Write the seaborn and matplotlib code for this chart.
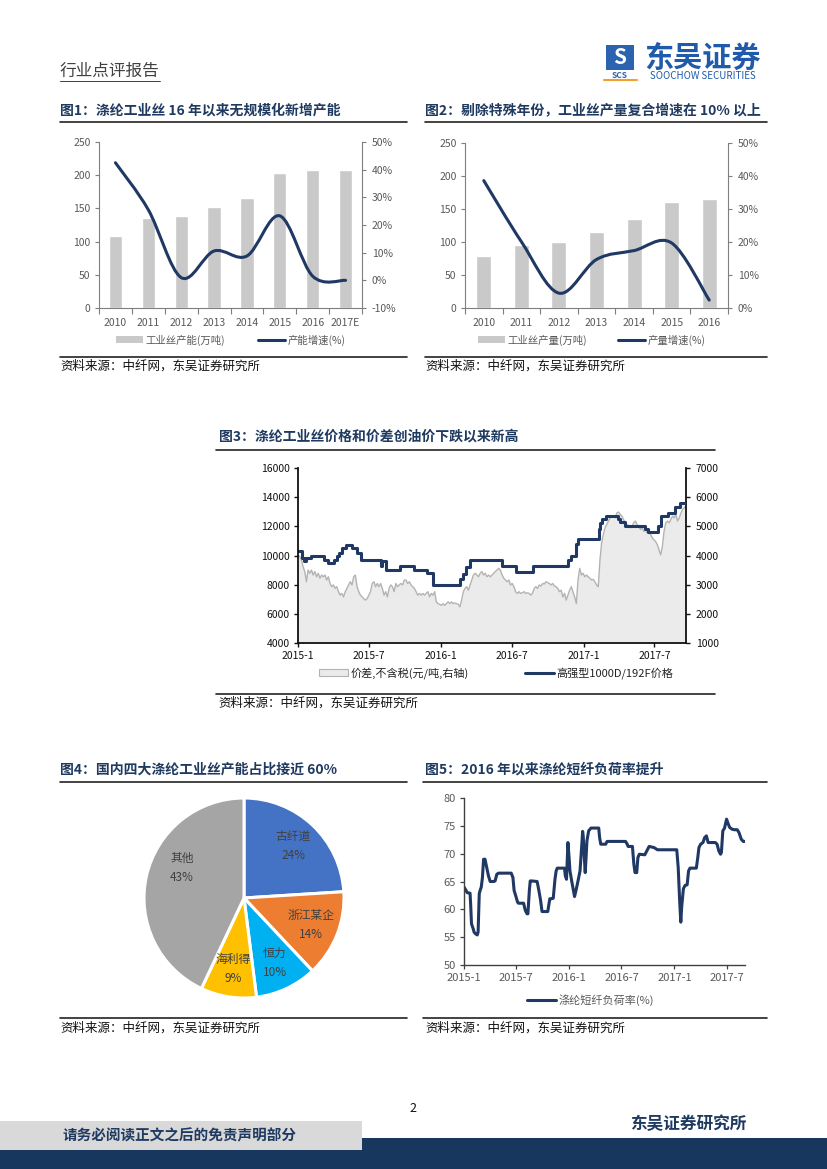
import numpy as np
import pandas as pd
import matplotlib
matplotlib.use("Agg")
import matplotlib.pyplot as plt
import seaborn as sns
from matplotlib.path import Path
from matplotlib.patches import PathPatch, Patch, Rectangle
from matplotlib.lines import Line2D

# ---------------- data ----------------
# fig 1: capacity
cap_years = ["2010", "2011", "2012", "2013", "2014", "2015", "2016", "2017E"]
cap_values = [109, 136, 138, 152, 166, 204, 208, 208]
cap_growth = [42.5, 25.5, 1.0, 10.6, 8.8, 23.3, 1.5, 0.0]

# fig 2: output
out_years = ["2010", "2011", "2012", "2013", "2014", "2015", "2016"]
out_values = [79, 95, 100, 115, 135, 161, 165]
out_growth = [38.6, 20.1, 4.5, 14.7, 17.4, 19.7, 2.4]

# fig 3: price (step changes) and spread
price_dates = ["2015-01-01", "2015-01-11", "2015-01-16", "2015-01-22", "2015-02-04",
               "2015-03-08", "2015-03-20", "2015-04-03", "2015-04-11", "2015-04-16",
               "2015-04-24", "2015-05-03", "2015-05-19", "2015-06-01", "2015-06-11",
               "2015-08-01", "2015-08-05", "2015-08-14", "2015-09-18", "2015-10-24",
               "2015-11-28", "2015-12-12", "2016-02-19", "2016-02-27", "2016-03-06",
               "2016-03-15", "2016-06-05", "2016-07-13", "2016-08-25", "2016-11-23",
               "2016-11-30", "2016-12-12", "2016-12-17", "2017-02-09", "2017-02-13",
               "2017-02-17", "2017-02-26", "2017-03-30", "2017-04-04", "2017-04-16",
               "2017-06-07", "2017-06-15", "2017-07-11", "2017-07-19", "2017-08-06",
               "2017-08-23", "2017-09-05", "2017-09-20"]
price_values = [10300, 9800, 9600, 9800, 10000,
                9700, 9500, 9700, 10000, 10200,
                10500, 10700, 10500, 10200, 9700,
                9300, 9600, 9000, 9300, 9000,
                8800, 8000, 8400, 8700, 9200,
                9700, 9300, 8900, 9300, 9700,
                10000, 10800, 11100, 11800, 12200,
                12500, 12700, 12500, 12300, 12000,
                11800, 11600, 12000, 12700, 12900,
                13300, 13600, 13600]

spread_values = [
    4020, 3970, 3850, 3620, 3450, 3100, 3500, 3390, 3500, 3330,
    3450, 3270, 3390, 3220, 3330, 3270, 3330, 3160, 3270, 3040,
    2930, 2990, 2870, 2930, 2760, 2640, 2700, 2580, 2760, 2870,
    2990, 3100, 2990, 3270, 3330, 2930, 2760, 2640, 2580, 2520,
    2470, 2520, 2640, 2760, 3040, 3100, 2930, 3040, 2930, 3040,
    2870, 2640, 2760, 2580, 2870, 2990, 2930, 2760, 3040, 2930,
    2990, 3040, 2990, 3160, 3160, 3040, 3100, 2990, 2930, 2870,
    2760, 2640, 2700, 2640, 2700, 2640, 2700, 2760, 2580, 2700,
    2640, 2760, 2410, 2350, 2330, 2290, 2350, 2290, 2350, 2410,
    2350, 2410, 2350, 2370, 2350, 2330, 2240, 2470, 2760, 2870,
    2930, 2810, 2990, 3160, 3330, 3390, 3330, 3270, 3390, 3450,
    3330, 3390, 3270, 3330, 3270, 3330,
    3390, 3450, 3500, 3560, 3500, 3330, 3220, 3160, 3100, 3160,
    2990, 3040, 2930, 2760, 2700, 2760, 2700, 2720, 2760, 2700,
    2720, 2700, 2640, 2700, 2870, 2930, 2870, 2990, 2950, 3040,
    3020, 3100, 3070, 3040, 2990, 3040, 2950, 2930, 2870, 2760,
    2810, 2580, 2700, 2470, 2640, 2810, 2930, 2760, 2580, 2350,
    3160, 3560, 3330, 3390, 3270, 3330, 3270, 3220, 3160, 3180,
    3100, 2990, 2930, 3850, 4430, 4720, 4950, 5060, 5180, 5290,
    5330, 5370, 5290, 5460, 5490, 5410, 5350, 5230, 5120, 5060,
    5030, 4950, 5000, 5120, 5180, 5060, 5000, 4890, 4950, 4830,
    4890, 4770, 4830, 4720, 4600, 4540, 4480, 4370, 4200, 4020,
    4310, 4830, 5120, 5180, 5120, 5230, 5350, 5290, 5410, 5180,
    5290, 5460, 5580, 5640, 5700]
spread_start, spread_end = "2015-01-01", "2017-09-20"

date_ticks = ["2015-01-01", "2015-07-01", "2016-01-01", "2016-07-01", "2017-01-01", "2017-07-01"]
date_labels = ["2015-1", "2015-7", "2016-1", "2016-7", "2017-1", "2017-7"]

# fig 4: capacity share
share_names = ["古纤道", "浙江某企", "恒力", "海利得", "其他"]
share_values = [24, 14, 10, 9, 43]
share_colors = ["#4472C4", "#ED7D31", "#00B0F0", "#FFC000", "#A5A5A5"]

# fig 5: staple fibre load rate
load_dates = ["2015-01-01", "2015-01-07", "2015-01-12", "2015-01-22", "2015-01-24", "2015-01-27",
              "2015-02-02", "2015-02-05", "2015-02-10", "2015-02-16", "2015-02-19", "2015-02-23",
              "2015-02-26", "2015-03-02", "2015-03-06", "2015-03-10", "2015-03-15", "2015-03-21",
              "2015-03-27", "2015-04-02", "2015-04-14", "2015-04-19", "2015-04-25", "2015-05-01",
              "2015-06-14", "2015-06-20", "2015-06-24", "2015-07-01", "2015-07-06", "2015-07-09",
              "2015-07-27", "2015-08-02", "2015-08-08", "2015-08-11", "2015-08-16", "2015-08-19",
              "2015-08-25", "2015-09-12", "2015-09-18", "2015-09-24", "2015-09-29", "2015-10-19",
              "2015-10-26", "2015-11-01", "2015-11-07", "2015-11-13", "2015-11-17", "2015-11-21",
              "2015-12-16", "2015-12-19", "2015-12-23", "2015-12-28", "2016-01-01", "2016-01-04",
              "2016-01-10", "2016-01-16", "2016-01-20", "2016-01-25", "2016-02-01", "2016-02-08",
              "2016-02-15", "2016-02-17", "2016-02-19", "2016-02-23", "2016-02-26", "2016-02-29",
              "2016-03-03", "2016-03-09", "2016-03-17", "2016-04-13", "2016-04-16", "2016-04-20",
              "2016-05-07", "2016-05-12", "2016-07-15", "2016-07-21", "2016-07-24", "2016-08-08",
              "2016-08-13", "2016-08-17", "2016-08-23", "2016-08-27", "2016-09-01", "2016-09-20",
              "2016-09-29", "2016-10-05", "2016-10-22", "2016-11-03", "2017-01-09", "2017-01-14",
              "2017-01-19", "2017-01-23", "2017-01-26", "2017-02-01", "2017-02-07", "2017-02-14",
              "2017-02-19", "2017-02-24", "2017-03-18", "2017-03-23", "2017-03-27", "2017-04-02",
              "2017-04-10", "2017-04-16", "2017-04-22", "2017-04-28", "2017-05-23", "2017-05-29",
              "2017-06-04", "2017-06-10", "2017-06-13", "2017-06-18", "2017-06-24", "2017-06-27",
              "2017-07-01", "2017-07-07", "2017-07-12", "2017-07-20", "2017-07-28", "2017-08-07",
              "2017-08-13", "2017-08-21", "2017-08-28", "2017-09-03"]
load_values = [64.0, 63.5, 63.0, 62.9, 61.0, 57.4,
               56.5, 55.9, 55.6, 55.4, 55.9, 62.8,
               63.4, 64.0, 65.7, 69.0, 69.0, 67.5,
               66.0, 65.0, 65.0, 65.1, 66.3, 66.5,
               66.5, 65.7, 63.4, 62.2, 61.3, 61.1,
               61.1, 59.8, 59.2, 59.2, 63.4, 65.1,
               65.1, 65.0, 63.4, 61.6, 59.6, 59.6,
               61.9, 61.9, 62.0, 65.4, 66.9, 67.4,
               67.4, 66.0, 65.4, 72.0, 69.3, 66.9,
               65.1, 63.4, 62.3, 63.4, 65.1, 66.9,
               72.3, 74.0, 73.2, 69.3, 66.6, 69.3,
               72.3, 74.1, 74.6, 74.6, 72.9, 71.7,
               71.7, 72.2, 72.2, 71.7, 71.3, 71.3,
               68.1, 66.6, 66.6, 69.3, 69.9, 69.8,
               70.7, 71.3, 71.1, 70.7, 70.7, 67.5,
               61.6, 57.7, 60.4, 63.7, 64.3, 64.4,
               66.9, 67.4, 67.4, 69.3, 71.1, 71.7,
               72.0, 72.9, 73.2, 72.0, 72.0, 71.7,
               70.5, 69.9, 70.2, 74.1, 74.6, 75.3,
               76.2, 75.3, 74.7, 74.4, 74.3, 74.3,
               73.8, 72.6, 72.2, 72.2]

# ---------------- style ----------------
NAVY = "#1F3864"
TITLE = "#1F3A60"
BAR_GRAY = "#C9C9C9"
TICK = "#595959"
SPINE = "#7F7F7F"

sns.set_theme(style="white")
plt.rcParams["font.family"] = ["Noto Sans CJK SC", "DejaVu Sans"]
plt.rcParams["axes.unicode_minus"] = False

W, H = 827, 1169
fig = plt.figure(figsize=(8.27, 11.69), dpi=100)


def rect(x0, y0, x1, y1):
    return [x0 / W, 1 - y1 / H, (x1 - x0) / W, (y1 - y0) / H]


def fx(x):
    return x / W


def fy(y):
    return 1 - y / H


def hline(x0, x1, y, lw=1.2, color="#222222"):
    fig.add_artist(Line2D([fx(x0), fx(x1)], [fy(y), fy(y)], transform=fig.transFigure,
                          color=color, lw=lw))


def smooth_path(xs, ys):
    # catmull-rom style smoothing like excel's smoothed line
    pts = np.column_stack([xs, ys]).astype(float)
    n = len(pts)
    verts = [pts[0]]
    codes = [Path.MOVETO]
    for i in range(n - 1):
        p0 = pts[i - 1] if i > 0 else pts[i]
        p1, p2 = pts[i], pts[i + 1]
        p3 = pts[i + 2] if i + 2 < n else pts[i + 1]
        verts += [p1 + (p2 - p0) / 6, p2 - (p3 - p1) / 6, p2]
        codes += [Path.CURVE4] * 3
    return Path(verts, codes)


def put_legend(handle, label, x, y, color=TICK, size=7.5):
    fig.legend(handles=[handle], labels=[label], loc="center left",
               bbox_to_anchor=(fx(x), fy(y)), frameon=False, fontsize=size,
               handlelength=2.6, handletextpad=0.25, borderpad=0, borderaxespad=0,
               labelcolor=color)


def bar_line(box, years, bars, growth, rlim, rticks, bar_label, line_label, legend_x):
    ax = fig.add_axes(rect(*box))
    sns.barplot(x=years, y=bars, color=BAR_GRAY, width=0.4, saturation=1,
                errorbar=None, ax=ax)
    n = len(years)
    ax.set_xlim(-0.5, n - 0.5)
    ax.set_ylim(0, 250)
    ax.set_yticks(range(0, 251, 50))
    ax.set_xticks(np.arange(n + 1) - 0.5)
    ax.set_xticklabels([])
    ax.set_xticks(range(n), minor=True)
    ax.set_xticklabels(years, minor=True)
    ax.tick_params(axis="x", which="major", bottom=True, length=4, width=0.8, color=SPINE)
    ax.tick_params(axis="x", which="minor", bottom=True, length=0, labelsize=7.5,
                   labelcolor=TICK, pad=7)
    ax.tick_params(axis="y", left=True, length=3, width=0.8, color=SPINE,
                   labelsize=7.5, labelcolor=TICK, pad=3)
    ax.set_xlabel("")
    ax.set_ylabel("")
    for s in ["top", "right"]:
        ax.spines[s].set_visible(False)
    for s in ["left", "bottom"]:
        ax.spines[s].set_color(SPINE)
        ax.spines[s].set_linewidth(0.8)

    ax2 = ax.twinx()
    ax2.add_patch(PathPatch(smooth_path(np.arange(n), growth), fill=False,
                            edgecolor=NAVY, lw=2.2, capstyle="round"))
    ax2.set_ylim(*rlim)
    ax2.set_yticks(rticks)
    ax2.set_yticklabels([f"{t}%" for t in rticks])
    ax2.tick_params(axis="y", right=True, length=3, width=0.8, color=SPINE,
                    labelsize=7.5, labelcolor=TICK, pad=4)
    for s in ["top", "left", "bottom"]:
        ax2.spines[s].set_visible(False)
    ax2.spines["right"].set_color(SPINE)
    ax2.spines["right"].set_linewidth(0.8)
    ax2.grid(False)
    ax.grid(False)

    put_legend(Patch(facecolor=BAR_GRAY, edgecolor="none"), bar_label, legend_x[0], 340)
    put_legend(Line2D([0], [0], color=NAVY, lw=2.2), line_label, legend_x[1], 340)


# ---------------- header ----------------
fig.text(fx(60), fy(71), "行业点评报告", fontsize=12, color="#404040", va="center")
hline(60, 160, 81, lw=0.7, color="#404040")

fig.add_artist(Rectangle((fx(606), fy(70)), fx(28), 25 / H, transform=fig.transFigure,
                         facecolor="#2B63B0", edgecolor="none"))
fig.text(fx(620), fy(58), "S", fontsize=15, fontweight="bold", style="italic",
         color="white", ha="center", va="center")
fig.text(fx(620), fy(75), "SCS", fontsize=6, fontweight="bold", color="#2B63B0",
         ha="center", va="center")
hline(604, 637, 80, lw=1.5, color="#F0A030")
fig.text(fx(702), fy(58), "东吴证券", fontsize=21, fontweight="bold", color="#1F5BAA",
         ha="center", va="center")
fig.text(fx(703), fy(76), "SOOCHOW SECURITIES", fontsize=7, color="#1F5BAA",
         ha="center", va="center")

# ---------------- titles / rules / sources ----------------
SRC = "资料来源：中纤网，东吴证券研究所"
titles = [
    (60, 111, "图1：涤纶工业丝 16 年以来无规模化新增产能"),
    (425, 111, "图2：剔除特殊年份，工业丝产量复合增速在 10% 以上"),
    (219, 437, "图3：涤纶工业丝价格和价差创油价下跌以来新高"),
    (60, 770, "图4：国内四大涤纶工业丝产能占比接近 60%"),
    (425, 770, "图5：2016 年以来涤纶短纤负荷率提升"),
]
for x, y, t in titles:
    fig.text(fx(x), fy(y), t, fontsize=10, fontweight="bold", color=TITLE, va="center")

for x0, x1, y in [(60, 407, 122), (425, 767, 122), (216, 715, 450), (60, 407, 782),
                  (423, 767, 782), (60, 407, 357), (425, 767, 357), (216, 715, 694),
                  (60, 407, 1018), (423, 767, 1018)]:
    hline(x0, x1, y)

for x, y in [(60, 366), (425, 366), (218, 703), (60, 1028), (425, 1028)]:
    fig.text(fx(x), fy(y), SRC, fontsize=9, color="#111111", va="center")

# ---------------- fig 1 & 2 ----------------
bar_line((99, 142, 362, 308), cap_years, cap_values, cap_growth, (-10, 50),
         list(range(-10, 51, 10)), "工业丝产能(万吨)", "产能增速(%)", (116, 258))
bar_line((465, 143, 728, 308), out_years, out_values, out_growth, (0, 50),
         list(range(0, 51, 10)), "工业丝产量(万吨)", "产量增速(%)", (478, 618))

# ---------------- fig 3 ----------------
ax3 = fig.add_axes(rect(298, 468, 686, 643))
ax3r = ax3.twinx()
ax3.set_zorder(2)
ax3r.set_zorder(1)
ax3.patch.set_visible(False)

s_dates = pd.date_range(spread_start, spread_end, periods=len(spread_values))
ax3r.fill_between(s_dates, spread_values, 1000, color="#EBEBEB", lw=0)
sns.lineplot(x=s_dates, y=spread_values, color="#B3B3B3", lw=1.0, sort=False, ax=ax3r)
sns.lineplot(x=pd.to_datetime(price_dates), y=price_values, drawstyle="steps-post",
             color=NAVY, lw=2.2, sort=False, ax=ax3)

ax3.set_xlim(pd.Timestamp(spread_start), pd.Timestamp(spread_end))
ax3.set_ylim(4000, 16000)
ax3.set_yticks(range(4000, 16001, 2000))
ax3r.set_ylim(1000, 7000)
ax3r.set_yticks(range(1000, 7001, 1000))
ax3.set_xticks(pd.to_datetime(date_ticks))
ax3.set_xticklabels(date_labels)
for a in (ax3, ax3r):
    a.set_xlabel("")
    a.set_ylabel("")
    a.grid(False)
    a.spines["top"].set_visible(False)
ax3.spines["right"].set_visible(False)
ax3r.spines["left"].set_visible(False)
ax3r.spines["bottom"].set_visible(False)
for a, s in [(ax3, "left"), (ax3, "bottom"), (ax3r, "right")]:
    a.spines[s].set_color("#111111")
    a.spines[s].set_linewidth(1.3)
ax3.tick_params(axis="x", bottom=True, length=3, width=1, color="#111111",
                labelsize=7.5, labelcolor="#111111", pad=3)
ax3.tick_params(axis="y", left=True, length=3, width=1, color="#111111",
                labelsize=7.5, labelcolor="#111111", pad=3)
ax3r.tick_params(axis="y", right=True, length=3, width=1, color="#111111",
                 labelsize=7.5, labelcolor="#111111", pad=4)

put_legend(Patch(facecolor="#EBEBEB", edgecolor="#B3B3B3", lw=0.8),
           "价差,不含税(元/吨,右轴)", 319, 673, color="#222222", size=8)
put_legend(Line2D([0], [0], color=NAVY, lw=2.2), "高强型1000D/192F价格", 525, 673,
           color="#222222", size=8)

# ---------------- fig 4 ----------------
ax4 = fig.add_axes(rect(144, 798, 344, 998))
wedges, texts = ax4.pie(share_values, colors=share_colors, startangle=90,
                        counterclock=False,
                        labels=[f"{n}\n{v}%" for n, v in zip(share_names, share_values)],
                        labeldistance=0.72,
                        wedgeprops=dict(edgecolor="white", linewidth=2.2))
for t in texts:
    t.set_ha("center")
    t.set_va("center")
    t.set_fontsize(8.5)
    t.set_color("#404040")
    t.set_linespacing(1.6)
texts[-1].set_position((-0.62, 0.30))
ax4.set_xlim(-1, 1)
ax4.set_ylim(-1, 1)
ax4.set_aspect("equal")

# ---------------- fig 5 ----------------
ax5 = fig.add_axes(rect(464, 798, 745, 965))
sns.lineplot(x=pd.to_datetime(load_dates), y=load_values, color=NAVY, lw=2.2,
             sort=False, ax=ax5)
ax5.set_xlim(pd.Timestamp("2015-01-01"), pd.Timestamp("2017-09-03"))
ax5.set_ylim(50, 80)
ax5.set_yticks(range(50, 81, 5))
ax5.set_xticks(pd.to_datetime(date_ticks))
ax5.set_xticklabels(date_labels)
ax5.set_xlabel("")
ax5.set_ylabel("")
ax5.grid(False)
for s in ["top", "right"]:
    ax5.spines[s].set_visible(False)
for s in ["left", "bottom"]:
    ax5.spines[s].set_color("#404040")
    ax5.spines[s].set_linewidth(1.0)
ax5.tick_params(axis="both", bottom=True, left=True, length=3, width=0.9, color="#404040",
                labelsize=8, labelcolor=TICK, pad=3)
put_legend(Line2D([0], [0], color=NAVY, lw=2.2), "涤纶短纤负荷率(%)", 527, 1000, size=8)

# ---------------- footer ----------------
fig.text(fx(413), fy(1108), "2", fontsize=9, color="#111111", ha="center", va="center")
fig.add_artist(Rectangle((0, 0), 1, fy(1138), transform=fig.transFigure,
                         facecolor="#17375E", edgecolor="none"))
fig.add_artist(Rectangle((0, fy(1150)), fx(362), (1150 - 1121) / H, transform=fig.transFigure,
                         facecolor="#D9D9D9", edgecolor="none"))
fig.text(fx(180), fy(1135), "请务必阅读正文之后的免责声明部分", fontsize=10.5,
         fontweight="bold", color=TITLE, ha="center", va="center")
fig.text(fx(688), fy(1124), "东吴证券研究所", fontsize=12, fontweight="bold",
         color=TITLE, ha="center", va="center")

fig.savefig("out.png", dpi=100)
